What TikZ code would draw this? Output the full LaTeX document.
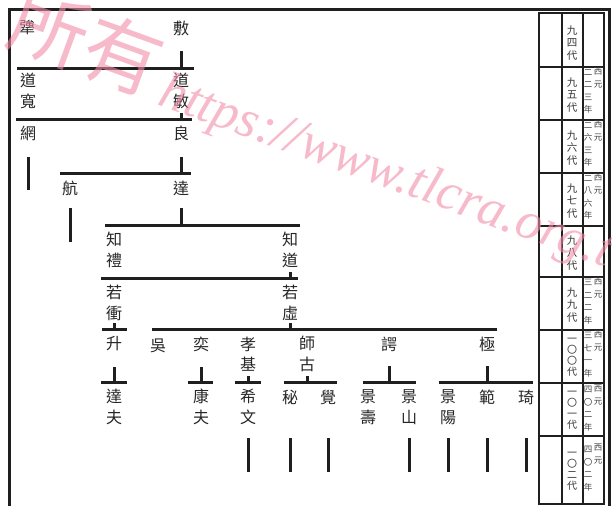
\documentclass[tikz,border=0pt]{standalone}
\usepackage{fontspec}
\setmainfont{Liberation Serif}
\newfontfamily\cjk{Noto Sans CJK TC}
\definecolor{wmpink}{RGB}{242,140,168}
\tikzset{
  nm/.style={font=\cjk\fontsize{16}{20.5}\selectfont, inner sep=0pt, align=center, text=black!85},
  br/.style={line width=3pt, black!88},
  tb/.style={line width=2pt, black!88},
  gen/.style={font=\cjk\fontsize{10.5}{12.3}\selectfont, inner sep=0pt, align=center, text=black!80},
  yr/.style={font=\cjk\fontsize{8.5}{12.5}\selectfont, inner sep=0pt, align=center, anchor=north, text=black!75},
  wm/.style={text=wmpink, opacity=0.6, inner sep=0pt}
}
\begin{document}
\begin{tikzpicture}[x=1pt,y=-1pt]
\useasboundingbox (0,0) rectangle (612,506);
% outer frame
\draw[line width=3pt, black!88] (9,506) -- (9,9.5) -- (609.5,9.5) -- (609.5,506);
% generation table
\draw[tb] (539,13) rectangle (604,504);
\draw[tb] (562,13) -- (562,504);
\draw[tb] (583,13) -- (583,504);
\foreach \yy in {67,120,173,226,277,330,383,436} \draw[tb] (539,\yy) -- (604,\yy);
\node[gen] (t94) at (572,43) {九\\四\\代};
\node[gen] (t95) at (572,95) {九\\五\\代};
\node[gen] (t96) at (572,148) {九\\六\\代};
\node[gen] (t97) at (572,201) {九\\七\\代};
\node[gen] (t98) at (572,253) {九\\八\\代};
\node[gen] (t99) at (572,305) {九\\九\\代};
\node[gen, font=\cjk\fontsize{10}{11}\selectfont] (t100) at (572,357) {一\\〇\\〇\\代};
\node[gen, font=\cjk\fontsize{10}{11}\selectfont] (t101) at (572,410) {一\\〇\\一\\代};
\node[gen, font=\cjk\fontsize{10}{11}\selectfont] (t102) at (572,471) {一\\〇\\二\\代};
% years
\node[yr] (y95a) at (588,69) {二\\二\\三\\年};
\node[yr] (y95b) at (598,68) {西\\元};
\node[yr] (y96a) at (588,122) {二\\六\\三\\年};
\node[yr] (y96b) at (598,121) {西\\元};
\node[yr] (y97a) at (588,175) {二\\八\\六\\年};
\node[yr] (y97b) at (598,174) {西\\元};
\node[yr] (y99a) at (588,279) {三\\二\\二\\年};
\node[yr] (y99b) at (598,278) {西\\元};
\node[yr] (y100a) at (588,332) {三\\七\\一\\年};
\node[yr] (y100b) at (598,331) {西\\元};
\node[yr] (y101a) at (588,386) {四\\〇\\二\\年};
\node[yr] (y101b) at (598,385) {西\\元};
\node[yr] (y102a) at (588,446) {四\\〇\\二\\年};
\node[yr] (y102b) at (598,444) {西\\元};
% names
\node[nm] (a94) at (27,27) {犟};
\node[nm] (b94) at (181,28) {敷};
\node[nm] (a95) at (28,91) {道\\寬};
\node[nm] (b95) at (181,91) {道\\敏};
\node[nm] (a96) at (28,133) {網};
\node[nm] (b96) at (181,133) {良};
\node[nm] (a97) at (70,188) {航};
\node[nm] (b97) at (181,188) {達};
\node[nm] (a98) at (114,250) {知\\禮};
\node[nm] (b98) at (290,250) {知\\道};
\node[nm] (a99) at (114,303) {若\\衝};
\node[nm] (b99) at (290,303) {若\\虛};
\node[nm] (a100) at (114,344) {升};
\node[nm] (b100) at (158,346) {吳};
\node[nm] (c100) at (201,344) {奕};
\node[nm] (d100) at (248,354) {孝\\基};
\node[nm] (e100) at (307,354) {師\\古};
\node[nm] (f100) at (389,344) {諤};
\node[nm] (g100) at (487,344) {極};
\node[nm] (a101) at (114,407) {達\\夫};
\node[nm] (b101) at (201,407) {康\\夫};
\node[nm] (c101) at (248,407) {希\\文};
\node[nm] (d101) at (290,397) {秘};
\node[nm] (e101) at (328,397) {覺};
\node[nm] (f101) at (368,407) {景\\壽};
\node[nm] (g101) at (409,407) {景\\山};
\node[nm] (h101) at (448,407) {景\\陽};
\node[nm] (i101) at (487,397) {範};
\node[nm] (j101) at (526,397) {琦};
% bars (named end points)
\coordinate (k1l) at (17,68);   \coordinate (k1r) at (194,68);
\coordinate (k2l) at (16,119);  \coordinate (k2r) at (192,119);
\coordinate (k3l) at (60,173);  \coordinate (k3r) at (191,173);
\coordinate (k4l) at (105,225); \coordinate (k4r) at (300,225);
\coordinate (k5l) at (101,278); \coordinate (k5r) at (298,278);
\coordinate (k6l) at (102,329); \coordinate (k6r) at (127,329);
\coordinate (k7l) at (152,329); \coordinate (k7r) at (497,329);
\coordinate (k8l) at (101,382); \coordinate (k8r) at (127,382);
\coordinate (k9l) at (188,382); \coordinate (k9r) at (213,382);
\coordinate (kal) at (235,382); \coordinate (kar) at (261,382);
\coordinate (kbl) at (284,382); \coordinate (kbr) at (337,382);
\coordinate (kcl) at (363,382); \coordinate (kcr) at (416,382);
\coordinate (kdl) at (439,382); \coordinate (kdr) at (533,382);
\foreach \p in {1,2,3,4,5,6,7,8,9,a,b,c,d} \draw[br] (k\p l) -- (k\p r);
% stems from parents to bars
\draw[br] (b94) ++(0,23) -- (b94 |- k1l);
\draw[br] (b95) ++(0,22) -- (b95 |- k2l);
\draw[br] (b96) ++(0,24) -- (b96 |- k3l);
\draw[br] (b97) ++(0,20) -- (b97 |- k4l);
\draw[br] (b98) ++(0,22) -- (b98 |- k5l);
\draw[br] (a99) ++(0,20) -- (a99 |- k6l);
\draw[br] (b99) ++(0,20) -- (b99 |- k7l);
\draw[br] (a100) ++(0,23) -- (a100 |- k8l);
\draw[br] (c100) ++(0,23) -- (c100 |- k9l);
\draw[br] (d100) ++(0,22) -- (d100 |- kal);
\draw[br] (e100) ++(0,22) -- (e100 |- kbl);
\draw[br] (f100) ++(0,22) -- (f100 |- kcl);
\draw[br] (g100) ++(0,22) -- (g100 |- kdl);
% continuation lines
\draw[br] (a96) ++(0,24) -- ++(0,33);
\draw[br] (a97) ++(0,20) -- ++(0,34);
\foreach \n in {c101,g101,h101,i101,j101} \draw[br] (\n |- 0,438) -- (\n |- 0,472);
\draw[br] (d101) ++(0,41) -- ++(0,34);
\draw[br] (e101) ++(0,41) -- ++(0,34);
% watermark
\node[wm, font=\cjk\fontsize{78}{78}\selectfont, rotate=-20, anchor=base east] (wm1) at (150,96) {所有};
\node[wm, font=\itshape\fontsize{53}{53}\selectfont, rotate=-20, anchor=base west] (wm2) at (156,104) {https://www.tlcra.org.tw};
\end{tikzpicture}
\end{document}
